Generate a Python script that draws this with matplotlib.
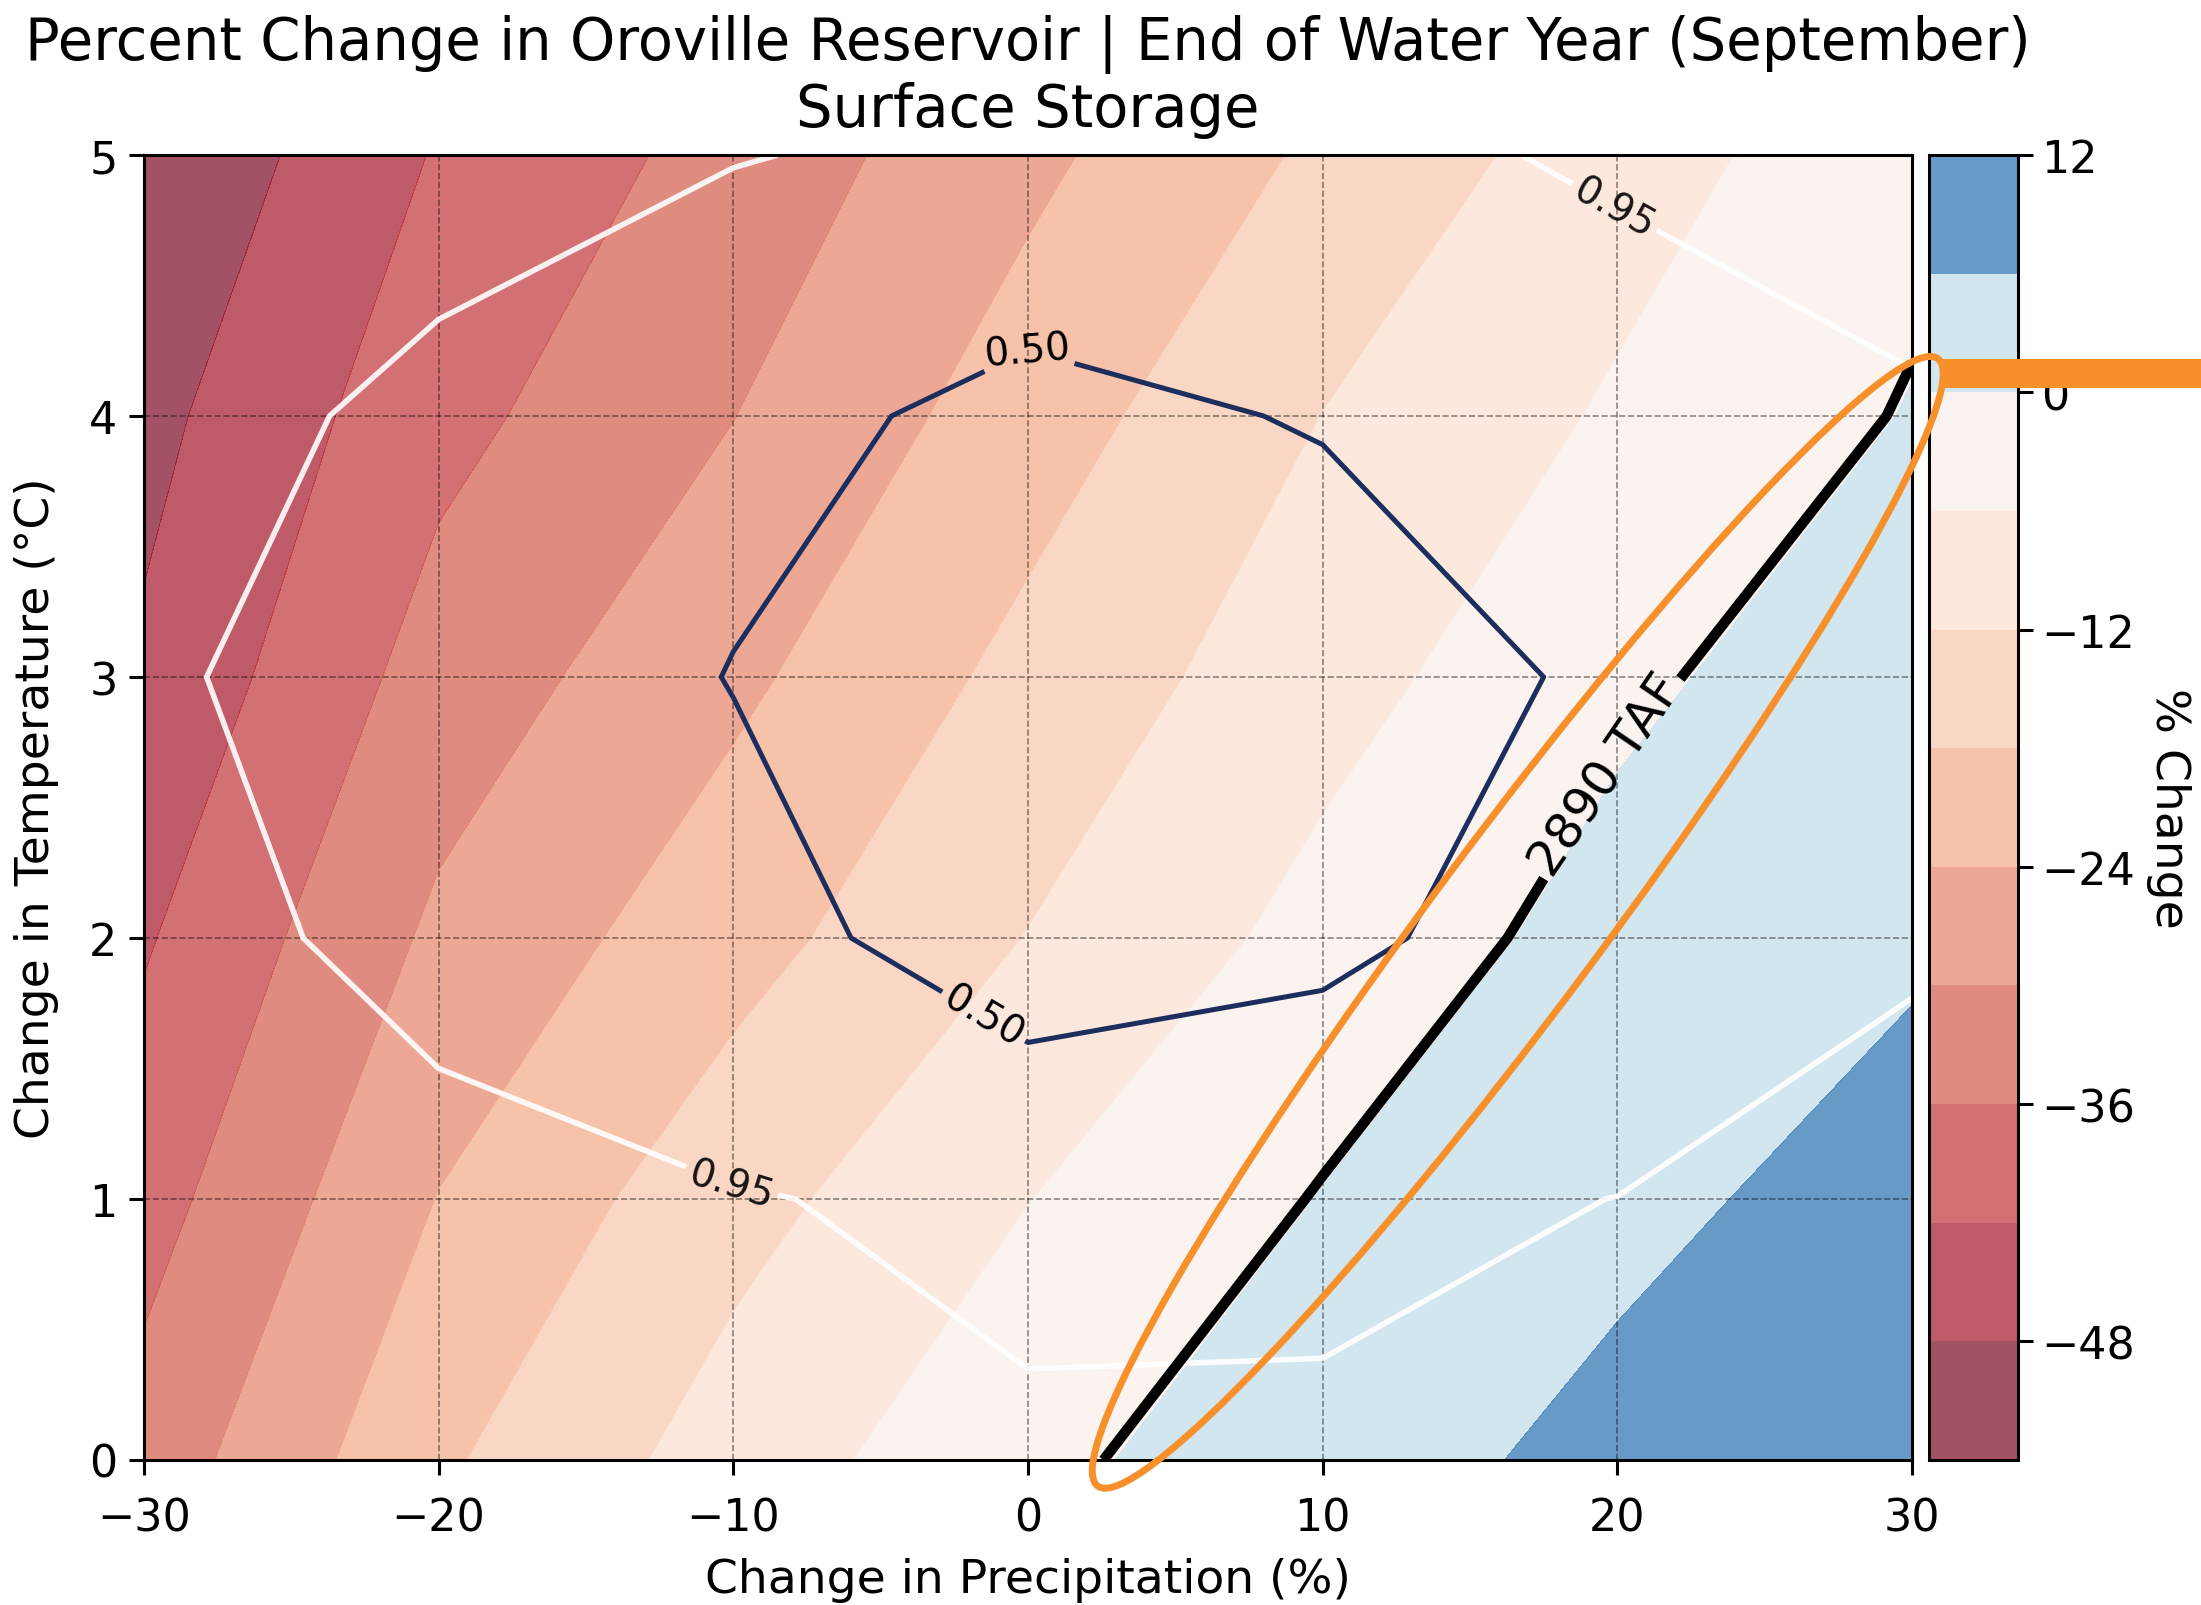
import numpy as np
import matplotlib
matplotlib.use("Agg")
import matplotlib.pyplot as plt
from matplotlib.colors import TwoSlopeNorm
from matplotlib.patches import Ellipse, Rectangle
from matplotlib.transforms import IdentityTransform

# ---- grid of climate perturbations ----
precip_change = [-30, -20, -10, 0, 10, 20, 30]   # %
temp_change = [0, 1, 2, 3, 4, 5]                 # deg C

# end-of-September storage, % change from historical (rows: temperature)
storage_pct_change = [
    [-33.5, -18.9, -9.2, -1.3, 3.1, 7.8, 10.5],
    [-38.4, -23.8, -14.1, -6.1, 0.2, 4.4, 8.6],
    [-42.6, -28.8, -20.2, -11.8, -4.0, 2.1, 5.1],
    [-47.0, -33.4, -25.3, -16.2, -8.2, -1.2, 3.5],
    [-49.8, -37.8, -30.1, -20.9, -11.9, -5.2, 0.3],
    [-53.6, -41.5, -33.8, -25.4, -16.9, -8.6, -2.0],
]

# likelihood surface of projected climate changes (rows: temperature)
probability = [
    [0.998, 0.995, 0.990, 0.980, 0.980, 0.990, 0.997],
    [0.998, 0.990, 0.965, 0.894, 0.903, 0.952, 0.990],
    [0.997, 0.910, 0.675, 0.237, 0.399, 0.750, 0.938],
    [0.977, 0.850, 0.485, 0.120, 0.257, 0.581, 0.900],
    [0.984, 0.930, 0.639, 0.380, 0.530, 0.820, 0.940],
    [0.995, 0.984, 0.966, 0.859, 0.880, 0.984, 0.995],
]

historical_storage_taf = 2895
threshold_taf = 2890

pct_levels = np.arange(-54, 13, 6)
cbar_ticks = [-48, -36, -24, -12, 0, 12]

P, T = np.meshgrid(precip_change, temp_change)
pct = np.array(storage_pct_change)
prob = np.array(probability)
storage_taf = historical_storage_taf * (1 + pct / 100.0)

W, H = 2201, 1606
fig = plt.figure(figsize=(W / 100, H / 100), dpi=100)
ax = fig.add_axes([144 / W, 145 / H, (1912 - 144) / W, 1305 / H])
cax = fig.add_axes([1929 / W, 145 / H, 89 / W, 1305 / H])

norm = TwoSlopeNorm(vmin=-54, vcenter=0, vmax=12)
cf = ax.contourf(P, T, pct, levels=pct_levels, cmap="RdBu", norm=norm, alpha=0.7)

ax.grid(True, linestyle="--", color="k", alpha=0.45, linewidth=1.2)

# probability contours
cs_mid = ax.contour(P, T, prob, levels=[0.50], colors="#1c2e5e", linewidths=3.6)
cs_out = ax.contour(P, T, prob, levels=[0.95], colors="white", linewidths=4.0, alpha=0.9)
ax.clabel(cs_mid, fmt="%.2f", fontsize=28, colors="k",
          manual=[(-0.1, 4.3), (-1.5, 1.7)])
ax.clabel(cs_out, fmt="%.2f", fontsize=28, colors="k",
          manual=[(19.9, 4.8), (-10.1, 1.05)])

# storage threshold
cs_taf = ax.contour(P, T, storage_taf, levels=[threshold_taf], colors="k", linewidths=7.5)
ax.clabel(cs_taf, fmt={threshold_taf: f"{threshold_taf} TAF"}, fontsize=36, colors="k",
          manual=[(20.0, 2.6)])

ax.set_xlim(-30, 30)
ax.set_ylim(0, 5)
ax.set_xticks([-30, -20, -10, 0, 10, 20, 30])
ax.set_yticks([0, 1, 2, 3, 4, 5])
ax.tick_params(labelsize=32, length=11, width=2.2)
ax.tick_params(axis="x", pad=15)
ax.tick_params(axis="y", pad=8)
for s in ax.spines.values():
    s.set_linewidth(2.2)
ax.set_xlabel("Change in Precipitation (%)", fontsize=34, labelpad=13)
ax.set_ylabel("Change in Temperature (°C)", fontsize=34, labelpad=22)
ax.set_title("Percent Change in Oroville Reservoir | End of Water Year (September)\nSurface Storage",
             fontsize=41.5, pad=21, linespacing=1.17)

cb = fig.colorbar(cf, cax=cax, ticks=cbar_ticks)
cb.ax.tick_params(labelsize=32, length=11, width=2.2, pad=6)
cb.outline.set_linewidth(2.2)
cb.set_label("% Change", fontsize=34, rotation=270, labelpad=40)

# highlight around the threshold line
cx, cy = ax.transData.transform((16.62, 2.06))
ring = Ellipse((cx, cy), width=1406, height=168, angle=53.3, fill=False,
               edgecolor="#f7902b", linewidth=5.0, transform=IdentityTransform(),
               zorder=10, clip_on=False)
fig.add_artist(ring)
bar = Rectangle((1943 / W, (H - 389) / H), 1 - 1943 / W, 29 / H, transform=fig.transFigure,
                facecolor="#f7902b", edgecolor="none", zorder=10)
fig.add_artist(bar)

fig.savefig("out.png", dpi=100)
